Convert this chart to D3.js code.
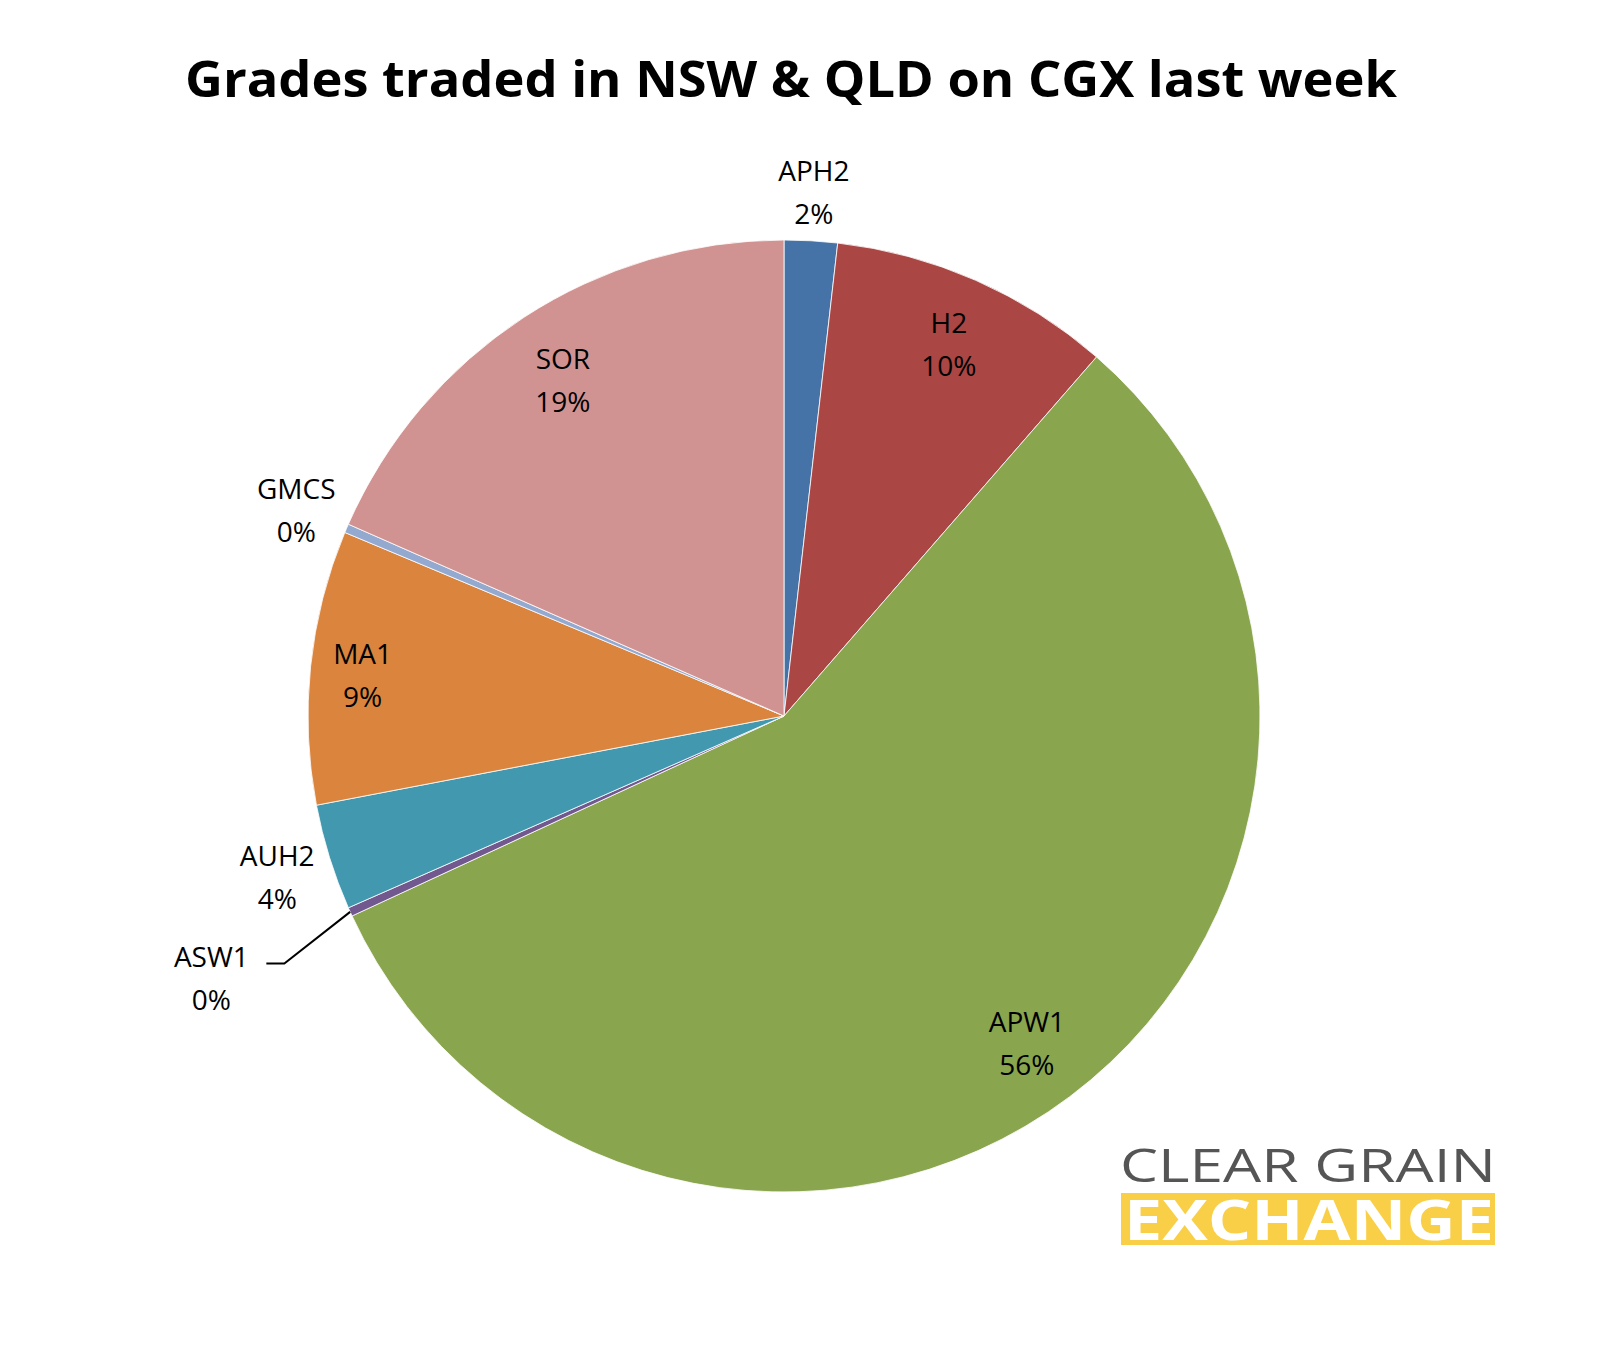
<!DOCTYPE html>
<html><head><meta charset="utf-8">
<script src="https://cdn.jsdelivr.net/npm/d3@7"></script>
<style>body{margin:0;background:#fff}</style></head>
<body><svg id="c" width="1608" height="1350"></svg>
<script>
const categories = ["APH2","H2","APW1","ASW1","AUH2","MA1","GMCS","SOR"];
const values = [1.8, 9.6, 56.7, 0.3, 3.6, 9.3, 0.3, 18.4];
const labels = ["2%","10%","56%","0%","4%","9%","0%","19%"];
const colors = ["#4572A7","#AA4643","#89A54E","#71588F","#4198AF","#DB843D","#93A9CF","#D19392"];
const labelRadius = [1.11,0.86,0.85,1.32,1.115,0.89,1.115,0.85];

const svg = d3.select("#c");
const font = "'Open Sans', 'Liberation Sans', sans-serif";
const cx = 784, cy = 716, R = 476;
svg.append("text").attr("x",791).attr("y",97).attr("text-anchor","middle")
  .attr("font-family",font).attr("font-weight","bold").attr("font-size",50)
  .attr("textLength",1212).attr("lengthAdjust","spacingAndGlyphs").text("Grades traded in NSW & QLD on CGX last week");

const pie = d3.pie().sort(null).value(d=>d)(values);
const arc = d3.arc().innerRadius(0).outerRadius(R);
const g = svg.append("g").attr("transform",`translate(${cx},${cy})`);
g.selectAll("path").data(pie).join("path").attr("d",arc)
  .attr("fill",(d,i)=>colors[i]).attr("stroke","#fff").attr("stroke-width",0.8);

pie.forEach((d,i)=>{
  const a=(d.startAngle+d.endAngle)/2, r=R*labelRadius[i];
  const x=r*Math.sin(a), y=-r*Math.cos(a);
  const t=g.append("text").attr("text-anchor","middle").attr("font-family",font).attr("font-size",28).attr("fill","#000");
  t.append("tspan").attr("x",x).attr("y",y-8).text(categories[i]);
  t.append("tspan").attr("x",x).attr("y",y+35).text(labels[i]);
  if(i===3){
    const ex=R*Math.sin(a), ey=-R*Math.cos(a);
    g.append("polyline").attr("points",`${ex},${ey} ${x+73},${y-11} ${x+55},${y-11}`)
      .attr("fill","none").attr("stroke","#000").attr("stroke-width",2);
  }
});

// logo
svg.append("text").attr("x",1120).attr("y",1182).attr("font-family","'Open Sans', sans-serif")
  .attr("font-size",46).attr("fill","#555").attr("textLength",376).attr("lengthAdjust","spacingAndGlyphs").text("CLEAR GRAIN");
svg.append("rect").attr("x",1121).attr("y",1193).attr("width",374).attr("height",52).attr("fill","#F9CF48");
svg.append("text").attr("x",1124).attr("y",1240).attr("font-family","'Open Sans', sans-serif").attr("font-weight","bold")
  .attr("font-size",56).attr("fill","#fff").attr("textLength",370).attr("lengthAdjust","spacingAndGlyphs").text("EXCHANGE");
</script></body></html>
